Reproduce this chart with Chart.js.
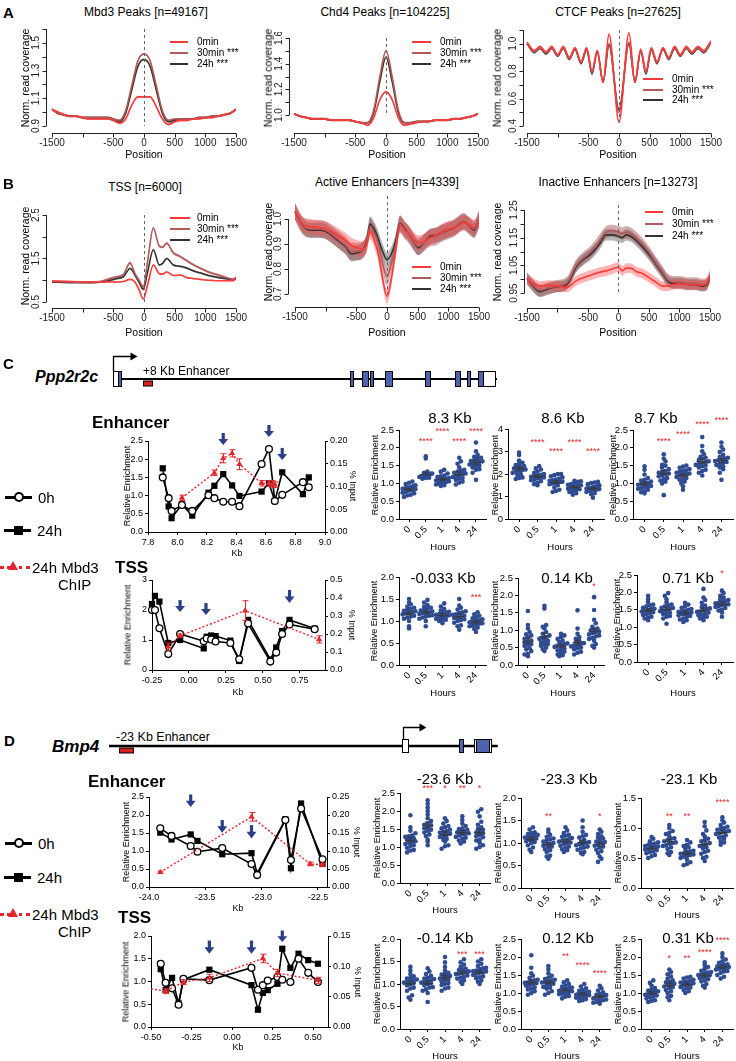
<!DOCTYPE html>
<html>
<head>
<meta charset="utf-8">
<title>Mbd3 profiles and ChIP</title>
<script src="https://cdn.jsdelivr.net/npm/chart.js@4.4.1/dist/chart.umd.min.js"></script>
<style>
  body { margin: 0; background: #fff; }
  #page { position: relative; width: 736px; height: 1061px; overflow: hidden; font-family: "Liberation Sans", Arial, sans-serif; color: #000; }
  .t { position: absolute; white-space: nowrap; line-height: 1; }
  .s { position: absolute; }
</style>
</head>
<body>
<div id="page"></div>
<script>
// ---------- A / B : normalised read coverage around peaks ----------
const profileSeries = ['0min', '30min ***', '24h ***'];
const POS100 = [-1500,-1400,-1300,-1200,-1100,-1000,-900,-800,-700,-600,-500,-400,-300,-200,-100,0,100,200,300,400,500,600,700,800,900,1000,1100,1200,1300,1400,1500];

const mbd3_0min  = [1.02,1.00,0.98,0.97,0.97,0.96,0.95,0.95,0.95,0.95,0.94,0.92,0.95,1.05,1.11,1.11,1.11,1.04,0.95,0.91,0.93,0.94,0.94,0.95,0.95,0.96,0.96,0.97,0.98,0.99,1.02];
const mbd3_30min = [1.02,0.99,0.98,0.97,0.97,0.96,0.96,0.96,0.96,0.96,0.95,0.94,1.01,1.19,1.37,1.42,1.37,1.19,1.01,0.94,0.95,0.95,0.95,0.95,0.96,0.96,0.97,0.97,0.98,0.99,1.02];
const mbd3_24h   = [1.02,0.99,0.98,0.97,0.97,0.96,0.96,0.96,0.96,0.96,0.95,0.93,0.99,1.16,1.33,1.38,1.33,1.16,0.99,0.93,0.94,0.95,0.95,0.95,0.96,0.96,0.97,0.97,0.98,0.99,1.02];

const chd4_0min  = [1.01,0.99,0.98,0.97,0.97,0.97,0.96,0.96,0.96,0.96,0.95,0.94,0.92,0.98,1.12,1.18,1.12,0.98,0.92,0.93,0.94,0.95,0.95,0.96,0.96,0.96,0.97,0.97,0.98,0.99,1.01];
const chd4_30min = [1.01,0.99,0.98,0.97,0.97,0.97,0.96,0.96,0.96,0.96,0.95,0.94,0.94,1.04,1.30,1.50,1.30,1.04,0.94,0.94,0.95,0.95,0.95,0.96,0.96,0.96,0.97,0.97,0.98,0.99,1.01];
const chd4_24h   = [1.01,0.99,0.98,0.97,0.97,0.97,0.96,0.96,0.96,0.96,0.95,0.94,0.94,1.02,1.26,1.45,1.26,1.02,0.94,0.94,0.95,0.95,0.95,0.96,0.96,0.96,0.97,0.97,0.98,0.99,1.01];

const ctcfPos    = [-1500,-1380,-1288,-1190,-1097,-1000,-908,-810,-717,-620,-527,-440,-354,-260,-163,0,163,260,354,440,527,620,717,810,908,1000,1097,1190,1288,1380,1500];
const ctcf_0min  = [1.01,0.95,0.98,0.94,0.98,0.92,0.98,0.90,0.97,0.87,0.97,0.80,0.95,0.72,1.07,0.43,1.08,0.72,0.96,0.80,0.97,0.87,0.97,0.90,0.98,0.92,0.98,0.94,0.98,0.95,1.02];
const ctcf_30min = [1.00,0.94,0.97,0.93,0.97,0.915,0.97,0.89,0.965,0.86,0.96,0.79,0.945,0.72,1.00,0.50,1.01,0.72,0.95,0.79,0.96,0.86,0.965,0.89,0.97,0.915,0.97,0.93,0.97,0.94,1.01];
const ctcf_24h   = [1.00,0.935,0.965,0.925,0.965,0.91,0.965,0.885,0.96,0.855,0.955,0.78,0.94,0.72,0.99,0.52,1.00,0.72,0.945,0.78,0.955,0.855,0.96,0.885,0.965,0.91,0.965,0.925,0.965,0.935,1.01];

const tssPos    = [-1500,-1200,-900,-700,-550,-440,-337,-228,-147,-80,-11,60,152,250,300,370,478,587,696,800,913,1050,1185,1320,1457,1500];
const tss_0min  = [0.98,0.97,0.96,0.96,0.96,0.96,0.97,1.02,0.96,0.78,0.57,0.90,1.35,1.15,1.14,1.19,1.11,1.12,1.06,1.04,1.02,1.00,0.99,0.99,0.99,1.05];
const tss_30min = [0.97,0.96,0.95,0.97,1.04,1.08,1.13,1.40,1.15,1.00,0.85,1.45,2.20,1.78,1.76,1.85,1.63,1.55,1.45,1.36,1.28,1.19,1.13,1.07,1.02,1.06];
const tss_24h   = [0.96,0.95,0.95,0.96,1.00,1.04,1.08,1.27,1.12,0.95,0.79,1.20,1.70,1.35,1.38,1.50,1.35,1.32,1.28,1.22,1.17,1.11,1.07,1.04,1.01,1.05];

const activePos    = [-1500,-1380,-1250,-1100,-1000,-880,-780,-680,-580,-480,-400,-330,-277,-200,-141,-70,0,70,140,212,290,348,430,511,600,700,800,900,1000,1100,1200,1250,1330,1420,1500];
const active_0min  = [1.03,0.98,0.97,0.965,0.96,0.945,0.93,0.915,0.895,0.885,0.88,0.90,0.95,0.91,0.86,0.76,0.69,0.76,0.87,0.975,0.955,0.945,0.92,0.905,0.91,0.925,0.935,0.95,0.96,0.965,0.98,0.985,0.98,0.965,0.99];
const active_30min = [1.03,0.975,0.96,0.96,0.955,0.935,0.915,0.895,0.87,0.87,0.875,0.905,0.97,0.94,0.90,0.82,0.77,0.82,0.89,0.98,0.955,0.94,0.91,0.89,0.905,0.925,0.93,0.945,0.955,0.965,0.985,0.99,0.975,0.96,1.0];
const active_24h   = [1.03,0.975,0.955,0.955,0.95,0.93,0.91,0.89,0.86,0.865,0.875,0.91,0.98,0.955,0.92,0.87,0.836,0.86,0.91,0.983,0.96,0.943,0.91,0.885,0.905,0.93,0.935,0.945,0.955,0.965,0.985,0.99,0.975,0.955,1.0];

const inactivePos    = [-1500,-1400,-1288,-1150,-1016,-853,-690,-580,-473,-390,-310,-201,-100,0,60,125,200,288,400,506,610,723,800,886,1000,1158,1270,1375,1450,1500];
const inactive_0min  = [1.0,0.985,0.975,0.978,0.975,0.97,0.995,1.005,1.013,1.02,1.025,1.03,1.037,1.043,1.03,1.04,1.04,1.028,1.02,1.005,0.99,0.975,0.975,0.98,0.983,0.98,0.98,0.978,0.985,1.01];
const inactive_30min = [1.003,0.978,0.96,0.968,0.975,0.985,1.05,1.075,1.095,1.115,1.14,1.17,1.175,1.17,1.165,1.17,1.165,1.15,1.125,1.095,1.06,1.025,1.0,0.99,0.99,0.985,0.985,0.98,0.985,1.01];
const inactive_24h   = [1.003,0.975,0.955,0.965,0.973,0.98,1.045,1.07,1.087,1.105,1.127,1.16,1.16,1.155,1.15,1.16,1.155,1.14,1.115,1.087,1.055,1.02,0.995,0.985,0.985,0.98,0.98,0.975,0.98,1.01];

// standard error half-widths of the shaded bands, per series
const seA = [0.008, 0.008, 0.008];
const seTss = [0.015, 0.03, 0.025];
const seActive = [0.03, 0.035, 0.03];
const seInactive = [0.018, 0.022, 0.02];

const profXTicks = [-1500,-1000,-500,0,500,1000,1500];
const profXLabels = ['-1500','','-500','0','500','1000','1500'];

// ---------- C / D : qPCR tiling (Kb) ----------
const pppEnhKb   = [7.90,7.94,7.96,8.03,8.10,8.21,8.25,8.31,8.37,8.42,8.57,8.62,8.66,8.71,8.85,8.89];
const pppEnh0h   = [1.50,0.93,0.58,0.74,0.58,1.01,0.93,0.83,0.83,0.71,1.87,2.28,0.85,1.02,1.37,1.23];
const pppEnh24h  = [1.75,0.70,0.38,0.76,0.45,1.08,1.27,1.59,1.28,0.99,1.11,1.34,0.85,1.64,1.04,1.50];
const pppEnhMbdKb  = [8.03,8.25,8.31,8.37,8.42,8.57,8.62,8.64,8.66];
const pppEnhMbd    = [0.075,0.130,0.162,0.173,0.149,0.107,0.107,0.105,0.104];
const pppEnhMbdErr = [0.006,0.006,0.010,0.008,0.012,0.006,0.006,0.008,0.006];
const pppEnhArrowKb = [8.31,8.62,8.71];

const pppTssKb  = [-0.25,-0.23,-0.20,-0.14,-0.06,0.10,0.12,0.15,0.18,0.28,0.34,0.40,0.55,0.59,0.63,0.68,0.85];
const pppTss0h  = [2.00,2.00,1.39,0.53,1.20,0.96,1.05,1.02,0.95,0.90,0.36,1.55,0.28,0.58,1.20,1.52,1.36];
const pppTss24h = [2.20,2.47,2.28,0.90,1.00,0.72,1.11,1.15,1.13,0.98,0.30,1.67,0.35,0.75,1.30,1.67,1.38];
const pppTssMbdKb  = [-0.14,-0.06,0.38,0.88];
const pppTssMbd    = [0.13,0.19,0.33,0.17];
const pppTssMbdErr = [0.02,0.01,0.055,0.02];
const pppTssArrowKb = [-0.06,0.115,0.68];

const bmpEnhKb  = [-23.90,-23.80,-23.63,-23.57,-23.35,-23.09,-23.04,-22.79,-22.74,-22.65,-22.46];
const bmpEnh0h  = [1.63,1.42,1.14,0.98,1.08,0.64,0.33,1.86,0.75,2.18,0.77];
const bmpEnh24h = [1.51,1.32,1.46,1.28,0.91,0.94,0.38,1.88,0.52,2.32,0.64];
const bmpEnhMbdKb  = [-23.90,-23.09,-22.57,-22.46];
const bmpEnhMbd    = [0.041,0.195,0.064,0.062];
const bmpEnhMbdErr = [0.003,0.012,0.005,0.004];
const bmpEnhArrowKb = [-23.63,-23.35,-23.09];

const bmpTssKb  = [-0.44,-0.41,-0.37,-0.33,-0.30,-0.14,0.12,0.16,0.19,0.22,0.28,0.31,0.36,0.41,0.47,0.53];
const bmpTss0h  = [1.39,0.97,0.85,0.49,1.06,1.03,1.30,0.82,0.92,1.02,1.10,1.04,0.99,1.50,1.19,0.99];
const bmpTss24h = [1.27,0.81,1.08,0.52,1.04,1.26,0.92,0.38,0.75,0.81,0.95,1.72,1.30,1.61,1.47,1.39];
const bmpTssMbdKb  = [-0.50,-0.41,-0.30,-0.14,0.19,0.28,0.53];
const bmpTssMbd    = [0.063,0.059,0.074,0.081,0.113,0.089,0.077];
const bmpTssMbdErr = [0,0.004,0.004,0.006,0.007,0.006,0.005];
const bmpTssArrowKb = [-0.14,0.12,0.31];

// ---------- per-primer time course (relative enrichment) ----------
const HOURS = ['0','0.5','1','4','24'];
const ppp83 = [
  [0.62,0.66,0.68,0.72,0.74,0.75,0.78,0.8,0.81,0.82,0.84,0.85,0.86,0.88,0.9,0.92,0.95,0.98,1.02,1.05],
  [1.13,1.15,1.16,1.18,1.19,1.2,1.21,1.22,1.22,1.23,1.24,1.25,1.25,1.26,1.27,1.28,1.3,1.33,1.7,1.76],
  [0.93,0.95,0.97,1.0,1.02,1.03,1.04,1.06,1.08,1.09,1.1,1.12,1.13,1.15,1.18,1.2,1.22,1.28,1.33,1.38],
  [0.97,1.02,1.05,1.1,1.13,1.15,1.18,1.2,1.22,1.25,1.27,1.28,1.3,1.33,1.36,1.38,1.45,1.55,1.62,1.72],
  [1.1,1.3,1.38,1.4,1.45,1.48,1.5,1.53,1.55,1.56,1.6,1.62,1.63,1.66,1.7,1.72,1.75,1.8,1.9,2.15]];
const ppp86 = [
  [1.78,1.82,1.85,1.95,2.0,2.05,2.1,2.15,2.18,2.2,2.25,2.28,2.3,2.35,2.4,2.45,2.5,2.6,2.85,2.95],
  [1.5,1.55,1.6,1.68,1.72,1.75,1.8,1.83,1.85,1.88,1.9,1.92,1.93,1.97,2.0,2.05,2.1,2.2,2.25,2.35],
  [1.2,1.25,1.3,1.4,1.5,1.55,1.58,1.6,1.63,1.65,1.66,1.7,1.72,1.75,1.8,1.85,1.9,1.95,2.0,2.0],
  [1.08,1.15,1.2,1.25,1.3,1.32,1.35,1.38,1.4,1.41,1.42,1.45,1.48,1.5,1.52,1.55,1.6,1.65,1.68,1.7],
  [0.95,1.1,1.15,1.2,1.25,1.28,1.3,1.33,1.35,1.36,1.38,1.4,1.42,1.43,1.47,1.5,1.55,1.6,1.62,1.65]];
const ppp87 = [
  [0.72,0.75,0.78,0.82,0.85,0.86,0.9,0.92,0.93,0.96,0.98,0.99,1.02,1.05,1.08,1.1,1.15,1.25,1.38,1.48],
  [0.67,1.0,1.05,1.08,1.12,1.15,1.2,1.22,1.25,1.28,1.3,1.33,1.35,1.4,1.45,1.5,1.52,1.62,1.7,1.82],
  [0.82,0.92,1.0,1.05,1.1,1.12,1.15,1.18,1.22,1.25,1.27,1.28,1.3,1.33,1.35,1.37,1.4,1.44,1.47,1.5],
  [1.22,1.3,1.35,1.38,1.45,1.48,1.5,1.52,1.55,1.58,1.6,1.62,1.66,1.7,1.72,1.75,1.82,1.9,2.05,2.3],
  [1.1,1.3,1.4,1.45,1.48,1.52,1.55,1.58,1.6,1.63,1.65,1.67,1.7,1.72,1.75,1.8,1.88,1.95,2.03,2.15]];
const pppM033 = [
  [0.83,0.88,1.0,1.05,1.08,1.1,1.12,1.15,1.17,1.18,1.2,1.22,1.23,1.26,1.28,1.3,1.33,1.38,1.42,1.5],
  [0.88,1.0,1.05,1.08,1.1,1.12,1.13,1.16,1.18,1.19,1.2,1.22,1.24,1.25,1.28,1.3,1.32,1.36,1.42,1.48],
  [0.95,1.0,1.02,1.03,1.05,1.06,1.08,1.09,1.1,1.12,1.13,1.14,1.16,1.18,1.2,1.21,1.24,1.28,1.33,1.4],
  [0.8,0.88,0.9,0.96,1.0,1.02,1.04,1.07,1.08,1.1,1.12,1.14,1.15,1.18,1.2,1.22,1.26,1.3,1.35,1.5],
  [0.75,0.82,0.85,0.88,0.9,0.92,0.94,0.95,0.97,0.98,0.99,1.0,1.01,1.02,1.04,1.06,1.09,1.12,1.15,1.2]];
const ppp014 = [
  [0.25,0.3,0.32,0.4,0.45,0.48,0.55,0.58,0.6,0.65,0.68,0.7,0.75,0.8,0.85,0.88,0.95,1.05,1.15,1.55],
  [0.4,0.45,0.5,0.55,0.58,0.6,0.65,0.68,0.7,0.75,0.78,0.8,0.85,0.9,0.95,1.05,1.1,1.15,1.62,1.7],
  [0.25,0.28,0.3,0.35,0.38,0.42,0.45,0.48,0.52,0.55,0.57,0.58,0.6,0.62,0.66,0.7,0.75,0.8,0.85,0.9],
  [0.3,0.35,0.38,0.45,0.48,0.5,0.53,0.55,0.56,0.58,0.6,0.62,0.63,0.66,0.7,0.75,0.8,0.9,1.05,1.57],
  [0.5,0.55,0.6,0.7,0.75,0.78,0.82,0.85,0.88,0.92,0.95,0.96,1.0,1.02,1.05,1.1,1.2,1.3,1.58,1.95]];
const ppp071 = [
  [1.2,1.25,1.28,1.3,1.35,1.38,1.4,1.43,1.45,1.46,1.5,1.52,1.53,1.56,1.6,1.63,1.65,1.72,1.8,1.9],
  [1.1,1.25,1.3,1.32,1.38,1.4,1.42,1.46,1.48,1.5,1.53,1.55,1.56,1.6,1.63,1.65,1.72,1.8,1.9,1.98],
  [1.15,1.2,1.22,1.25,1.3,1.32,1.34,1.37,1.38,1.4,1.42,1.44,1.45,1.48,1.5,1.52,1.56,1.6,1.65,1.7],
  [1.2,1.25,1.28,1.3,1.34,1.36,1.38,1.42,1.44,1.45,1.48,1.5,1.52,1.54,1.58,1.62,1.7,1.78,1.85,2.1],
  [1.3,1.42,1.48,1.5,1.55,1.58,1.6,1.63,1.65,1.66,1.69,1.7,1.72,1.75,1.78,1.8,1.85,1.9,1.98,2.05]];
const bmpM236 = [
  [0.85,0.9,0.92,0.98,1.03,1.05,1.08,1.12,1.14,1.16,1.2,1.22,1.24,1.28,1.3,1.32,1.38,1.45,1.55,1.88],
  [1.05,1.15,1.2,1.3,1.35,1.4,1.45,1.48,1.52,1.55,1.6,1.62,1.65,1.72,1.8,1.9,2.0,2.1,2.2,2.3],
  [0.95,1.02,1.05,1.15,1.2,1.22,1.28,1.3,1.33,1.37,1.4,1.42,1.44,1.48,1.52,1.55,1.58,1.65,1.72,1.8],
  [1.1,1.15,1.18,1.23,1.26,1.28,1.32,1.35,1.37,1.38,1.41,1.42,1.44,1.48,1.5,1.52,1.58,1.65,1.75,1.85],
  [0.95,1.0,1.05,1.12,1.18,1.2,1.27,1.3,1.33,1.38,1.4,1.43,1.48,1.5,1.55,1.62,1.7,1.85,1.98,2.05]];
const bmpM233 = [
  [0.8,0.85,0.9,0.95,1.0,1.02,1.04,1.07,1.08,1.1,1.12,1.13,1.14,1.16,1.18,1.2,1.22,1.24,1.3,1.35],
  [0.65,0.7,0.72,0.8,0.84,0.86,0.9,0.92,0.94,0.97,0.98,1.0,1.03,1.06,1.08,1.1,1.14,1.18,1.24,1.3],
  [0.8,0.84,0.86,0.9,0.92,0.94,0.98,1.0,1.01,1.03,1.05,1.06,1.08,1.11,1.14,1.16,1.18,1.22,1.28,1.35],
  [0.75,0.78,0.8,0.85,0.88,0.9,0.92,0.95,0.97,0.98,1.0,1.02,1.03,1.07,1.12,1.15,1.18,1.25,1.35,1.5],
  [0.58,0.65,0.7,0.78,0.82,0.85,0.9,0.92,0.94,0.97,1.0,1.02,1.03,1.06,1.1,1.12,1.15,1.2,1.25,1.3]];
const bmpM231 = [
  [0.5,0.53,0.55,0.58,0.6,0.61,0.63,0.64,0.65,0.67,0.68,0.69,0.7,0.72,0.73,0.74,0.76,0.78,0.82,0.85],
  [0.55,0.58,0.6,0.65,0.68,0.7,0.71,0.74,0.75,0.76,0.78,0.8,0.82,0.83,0.86,0.9,0.92,0.95,1.0,1.05],
  [0.38,0.4,0.43,0.47,0.5,0.52,0.53,0.55,0.56,0.57,0.58,0.6,0.61,0.62,0.65,0.68,0.7,0.72,0.76,0.8],
  [0.45,0.5,0.52,0.57,0.6,0.62,0.66,0.68,0.7,0.72,0.73,0.75,0.78,0.8,0.82,0.86,0.9,0.96,1.03,1.1],
  [0.72,0.76,0.78,0.82,0.84,0.85,0.88,0.9,0.91,0.93,0.94,0.95,0.97,0.99,1.0,1.02,1.05,1.09,1.13,1.18]];
const bmpM014 = [
  [0.65,0.7,0.75,0.85,0.9,0.92,0.97,1.0,1.02,1.03,1.05,1.07,1.08,1.1,1.12,1.13,1.17,1.22,1.3,1.38],
  [0.6,0.8,0.85,0.88,0.92,0.93,0.97,1.0,1.02,1.03,1.05,1.07,1.08,1.11,1.12,1.14,1.18,1.22,1.28,1.35],
  [0.85,0.9,0.92,0.98,1.0,1.02,1.06,1.09,1.1,1.12,1.15,1.17,1.18,1.21,1.23,1.25,1.3,1.38,1.48,1.6],
  [1.0,1.05,1.08,1.12,1.14,1.16,1.19,1.22,1.23,1.24,1.26,1.27,1.28,1.31,1.33,1.34,1.38,1.43,1.48,1.55],
  [1.0,1.05,1.08,1.13,1.15,1.17,1.2,1.23,1.25,1.26,1.28,1.29,1.3,1.33,1.35,1.36,1.4,1.45,1.5,1.55]];
const bmp012 = [
  [0.95,1.0,1.05,1.1,1.12,1.15,1.2,1.22,1.24,1.27,1.28,1.3,1.33,1.35,1.37,1.42,1.48,1.55,1.7,2.05],
  [0.95,1.0,1.05,1.12,1.15,1.17,1.22,1.24,1.26,1.29,1.3,1.32,1.35,1.37,1.39,1.43,1.48,1.55,1.65,1.75],
  [0.85,0.9,0.92,0.97,0.98,1.0,1.03,1.05,1.06,1.08,1.09,1.1,1.12,1.14,1.15,1.18,1.21,1.25,1.3,1.35],
  [0.78,0.8,0.83,0.87,0.88,0.9,0.93,0.94,0.95,0.97,0.98,0.99,1.01,1.02,1.03,1.06,1.09,1.13,1.18,1.25],
  [0.7,0.73,0.75,0.79,0.8,0.82,0.85,0.86,0.87,0.89,0.9,0.91,0.93,0.94,0.95,0.98,1.02,1.07,1.13,1.2]];
const bmp031 = [
  [0.75,0.78,0.8,0.85,0.88,0.9,0.93,0.95,0.96,0.99,1.0,1.01,1.04,1.05,1.07,1.1,1.14,1.2,1.28,1.35],
  [0.8,0.88,0.92,1.0,1.05,1.08,1.14,1.16,1.18,1.22,1.24,1.26,1.3,1.32,1.35,1.4,1.46,1.52,1.58,1.65],
  [1.0,1.05,1.08,1.13,1.15,1.17,1.2,1.22,1.23,1.25,1.26,1.27,1.29,1.3,1.31,1.34,1.37,1.4,1.43,1.45],
  [1.15,1.2,1.25,1.32,1.35,1.38,1.42,1.44,1.46,1.49,1.5,1.52,1.55,1.57,1.58,1.62,1.67,1.72,1.78,1.85],
  [1.4,1.45,1.5,1.56,1.6,1.61,1.65,1.67,1.68,1.71,1.72,1.74,1.77,1.78,1.8,1.84,1.88,1.93,2.0,2.1]];

const ppp83Stars   = ['','****','****','****','****'];
const ppp86Stars   = ['','****','****','****','****'];
const ppp87Stars   = ['','****','****','****','****'];
const pppM033Stars = ['','','','','***'];
const ppp014Stars  = ['','','','','*'];
const ppp071Stars  = ['','','','','*'];
const bmpM236Stars = ['','***','*','**','*'];
const bmpM233Stars = ['','**','','','*'];
const bmpM231Stars = ['','**','**','','****'];
const bmpM014Stars = ['','','','***','***'];
const bmp012Stars  = ['','','**','****','****'];
const bmp031Stars  = ['','*','**','****','****'];

const T25 = [0,0.5,1,1.5,2,2.5], T20 = [0,0.5,1,1.5,2], T15 = [0,0.5,1,1.5], T4 = [0,1,2,3,4];

// ---------- gene models (Kb from TSS) ----------
const pppLine = [0, 89.1];
const pppExons = [[1.16,1.86],[55.0,55.7],[57.8,59.2],[59.6,60.3],[63.1,64.7],[72.4,73.5],[79.4,80.5],[82.2,82.9],[84.7,85.8]];
const pppUtr = [[0,1.16],[85.8,88.6]];
const pppEnhancer = [7.0,9.05];
const bmpLine = [-24.5, 7.9];
const bmpExons = [[4.67,5.0],[6.08,7.17]];
const bmpUtr = [[-0.05,0.4],[5.92,6.08],[7.17,7.33]];
const bmpEnhancer = [-23.67,-22.5];

// ---------- drawing ----------
const FONT = '"Liberation Sans", Arial, sans-serif';
const LINE_COL = ['#ff3838', '#b45858', '#333333'];
const BAND_COL = ['rgba(255,70,70,0.40)', 'rgba(150,60,60,0.42)', 'rgba(80,80,80,0.42)'];
const RED = '#e3262b', NAVY = '#2b3f86', DOT = '#2f4c92', EXON = '#4e62ad';
const page = document.getElementById('page');

function T(s, x, y, size, o) {
  o = o || {};
  const d = document.createElement('div');
  d.className = 't';
  d.textContent = s;
  d.style.left = x + 'px'; d.style.top = y + 'px';
  d.style.fontSize = size + 'px';
  if (o.bold) d.style.fontWeight = 'bold';
  if (o.italic) d.style.fontStyle = 'italic';
  if (o.color) d.style.color = o.color;
  let tr = o.align === 'left' ? 'translate(0,-50%)' : 'translate(-50%,-50%)';
  if (o.rot) tr += ' rotate(' + o.rot + 'deg)';
  d.style.transform = tr;
  page.appendChild(d);
  return d;
}
function box(x, y, w, h, css) {
  const d = document.createElement('div');
  d.className = 's';
  d.style.cssText += `left:${x}px;top:${y}px;width:${w}px;height:${h}px;` + (css || '');
  page.appendChild(d);
}

const setTicks = vals => s => { s.ticks = vals.map(v => ({value: v})); };

function build(area, m, cfg) {
  const [l, t, r, b] = area, [ml, mt, mr, mb] = m;
  const w = r - l + ml + mr, h = b - t + mt + mb;
  const cv = document.createElement('canvas');
  cv.width = w; cv.height = h;
  cv.style.cssText = `position:absolute;left:${l - ml}px;top:${t - mt}px;width:${w}px;height:${h}px;`;
  page.appendChild(cv);
  const sc = cfg.options.scales;
  const pad = {left: ml, top: mt, right: mr, bottom: mb};
  for (const id in sc) {
    const s = sc[id];
    if (s.display === false) continue;
    if (id === 'x') { pad.bottom = 0; s.afterFit = k => { k.height = mb; k.paddingLeft = 0; k.paddingRight = 0; }; }
    else if (s.position === 'right') { pad.right = 0; s.afterFit = k => { k.width = mr; k.paddingTop = 0; k.paddingBottom = 0; }; }
    else { pad.left = 0; s.afterFit = k => { k.width = ml; k.paddingTop = 0; k.paddingBottom = 0; }; }
  }
  cfg.options.layout = {padding: pad};
  cfg.options.responsive = false;
  cfg.options.animation = false;
  cfg.options.devicePixelRatio = 1;
  cfg.options.events = [];
  cfg.options.plugins = Object.assign({legend: {display: false}, tooltip: {enabled: false}}, cfg.options.plugins || {});
  return new Chart(cv, cfg);
}

// R-style axes: offset lines spanning first to last tick, rotated y labels
const rAxes = {
  id: 'rAxes',
  afterDraw(chart, args, o) {
    const {ctx, chartArea: a, scales: {x, y}} = chart;
    ctx.save();
    ctx.lineWidth = 1;
    ctx.setLineDash([3, 3]); ctx.strokeStyle = '#666';
    const zx = Math.round(x.getPixelForValue(0)) + 0.5;
    ctx.beginPath(); ctx.moveTo(zx, a.top); ctx.lineTo(zx, y.getPixelForValue(o.yTicks[0])); ctx.stroke();
    ctx.setLineDash([]);
    ctx.strokeStyle = '#222'; ctx.fillStyle = '#222';
    ctx.font = '10px ' + FONT;
    const by = Math.round(a.bottom) + 0.5;
    ctx.beginPath();
    ctx.moveTo(x.getPixelForValue(o.xTicks[0]), by);
    ctx.lineTo(x.getPixelForValue(o.xTicks[o.xTicks.length - 1]), by);
    o.xTicks.forEach(v => { const px = Math.round(x.getPixelForValue(v)) + 0.5; ctx.moveTo(px, by); ctx.lineTo(px, by + 4); });
    ctx.stroke();
    ctx.textAlign = 'center'; ctx.textBaseline = 'top';
    o.xTicks.forEach((v, i) => { if (o.xLabels[i]) ctx.fillText(o.xLabels[i], x.getPixelForValue(v), by + 5); });
    const lx = Math.round(a.left) + 0.5;
    ctx.beginPath();
    ctx.moveTo(lx, y.getPixelForValue(o.yTicks[0]));
    ctx.lineTo(lx, y.getPixelForValue(o.yTicks[o.yTicks.length - 1]));
    o.yTicks.forEach(v => { const py = Math.round(y.getPixelForValue(v)) + 0.5; ctx.moveTo(lx, py); ctx.lineTo(lx - 4, py); });
    ctx.stroke();
    ctx.textAlign = 'center'; ctx.textBaseline = 'bottom';
    o.yTicks.forEach((v, i) => {
      if (!o.yLabels[i]) return;
      ctx.save(); ctx.translate(lx - 5, y.getPixelForValue(v)); ctx.rotate(-Math.PI / 2);
      ctx.fillText(o.yLabels[i], 0, 0); ctx.restore();
    });
    ctx.restore();
  }
};

function profile(area, xr, yr, yTicks, yLabels, pos, series, se) {
  const ds = [];
  series.forEach((s, i) => {
    ds.push({data: pos.map((p, j) => ({x: p, y: s[j]})), borderColor: LINE_COL[i], borderWidth: 1.6,
      pointRadius: 0, cubicInterpolationMode: 'monotone', fill: false, order: i});
  });
  series.forEach((s, i) => {
    ds.push({data: pos.map((p, j) => ({x: p, y: s[j] - se[i]})), borderColor: 'rgba(0,0,0,0)', borderWidth: 1,
      pointRadius: 0, cubicInterpolationMode: 'monotone', fill: false, order: 10 + i});
    ds.push({data: pos.map((p, j) => ({x: p, y: s[j] + se[i]})), borderColor: 'rgba(0,0,0,0)', borderWidth: 1,
      pointRadius: 0, cubicInterpolationMode: 'monotone', fill: '-1', backgroundColor: BAND_COL[i], order: 10 + i});
  });
  return build(area, [30, 6, 16, 22], {
    type: 'line',
    data: {datasets: ds},
    options: {
      scales: {
        x: {type: 'linear', display: false, min: xr[0], max: xr[1]},
        y: {type: 'linear', display: false, min: yr[0], max: yr[1]}
      },
      plugins: {rAxes: {xTicks: profXTicks, xLabels: profXLabels, yTicks, yLabels}}
    },
    plugins: [rAxes]
  });
}

function profLegend(x1, x2, tx, ys) {
  ys.forEach((y, i) => {
    box(x1, y - 1, x2 - x1, 2, 'background:' + LINE_COL[i] + ';');
    T(profileSeries[i], tx, y, 10, {align: 'left'});
  });
}

// GraphPad-style axes
const GRID = {display: true, drawOnChartArea: false, drawTicks: true, tickLength: 3, color: '#000', lineWidth: 1};
const BORDER = {display: true, color: '#000', width: 1};
const tickOpt = extra => Object.assign({color: '#000', font: {family: FONT, size: 9}, padding: 2, autoSkip: false, maxRotation: 0}, extra);

const kbExtras = {
  id: 'kbExtras',
  afterDatasetsDraw(chart, args, o) {
    const {ctx, scales: {x, y, y2}} = chart;
    ctx.save();
    ctx.strokeStyle = RED; ctx.lineWidth = 1;
    o.mKb.forEach((k, i) => {
      const e = o.mErr[i]; if (!e) return;
      const px = Math.round(x.getPixelForValue(k)) + 0.5;
      const p1 = y2.getPixelForValue(o.mVal[i] + e), p2 = y2.getPixelForValue(o.mVal[i] - e);
      ctx.beginPath();
      ctx.moveTo(px, p1); ctx.lineTo(px, p2);
      ctx.moveTo(px - 3, p1); ctx.lineTo(px + 3, p1);
      ctx.moveTo(px - 3, p2); ctx.lineTo(px + 3, p2);
      ctx.stroke();
    });
    ctx.fillStyle = NAVY;
    o.arrKb.forEach((k, i) => {
      const px = x.getPixelForValue(k), top = y.getPixelForValue(o.arrY[i][0]), tip = y.getPixelForValue(o.arrY[i][1]);
      const hh = (tip - top) * 0.5;
      ctx.fillRect(px - 1.6, top, 3.2, tip - top - hh + 1);
      ctx.beginPath(); ctx.moveTo(px - 5, tip - hh); ctx.lineTo(px + 5, tip - hh); ctx.lineTo(px, tip); ctx.closePath(); ctx.fill();
    });
    ctx.restore();
  }
};

function kbChart(area, xr, xTicks, xDec, yMax, yTicks, yDec, y2Max, y2Ticks, y2Dec, kb, h0, h24, mKb, mVal, mErr, arrKb, arrY) {
  const pt = (xs, ys) => xs.map((k, i) => ({x: k, y: ys[i]}));
  return build(area, [26, 20, 26, 14], {
    type: 'line',
    data: {datasets: [
      {data: pt(kb, h0), yAxisID: 'y', borderColor: '#000', borderWidth: 1.6, pointStyle: 'circle', pointRadius: 3.4,
        pointBackgroundColor: '#fff', pointBorderColor: '#000', pointBorderWidth: 1.3, clip: false, order: 1},
      {data: pt(kb, h24), yAxisID: 'y', borderColor: '#000', borderWidth: 1.6, pointStyle: 'rect', pointRadius: 4.4,
        pointBackgroundColor: '#000', pointBorderColor: '#000', pointBorderWidth: 0, clip: false, order: 2},
      {data: pt(mKb, mVal), yAxisID: 'y2', borderColor: RED, borderDash: [2, 2], borderWidth: 1.4, pointStyle: 'triangle',
        pointRadius: c => (c.raw && c.raw.x <= xr[0]) ? 0 : 3.6,
        pointBackgroundColor: RED, pointBorderColor: RED, pointBorderWidth: 0, clip: false, order: 0}
    ]},
    options: {
      scales: {
        x: {type: 'linear', min: xr[0], max: xr[1], afterBuildTicks: setTicks(xTicks), grid: GRID, border: BORDER,
          ticks: tickOpt({callback: v => v.toFixed(xDec)})},
        y: {type: 'linear', position: 'left', min: 0, max: yMax, afterBuildTicks: setTicks(yTicks), grid: GRID, border: BORDER,
          ticks: tickOpt({callback: v => v.toFixed(yDec)})},
        y2: {type: 'linear', position: 'right', min: 0, max: y2Max, afterBuildTicks: setTicks(y2Ticks), grid: GRID, border: BORDER,
          ticks: tickOpt({callback: v => v.toFixed(y2Dec)})}
      },
      plugins: {kbExtras: {mKb, mVal, mErr, arrKb, arrY}}
    },
    plugins: [kbExtras]
  });
}

const dotExtras = {
  id: 'dotExtras',
  afterDatasetsDraw(chart, args, o) {
    const {ctx, scales: {x, y}} = chart;
    ctx.save();
    const hw = (x.getPixelForValue(1) - x.getPixelForValue(0)) * 0.3;
    o.groups.forEach((g, gi) => {
      const n = g.length, mean = g.reduce((a, b) => a + b, 0) / n;
      const sd = Math.sqrt(g.reduce((a, b) => a + (b - mean) * (b - mean), 0) / (n - 1)), sem = sd / Math.sqrt(n);
      const cx = x.getPixelForValue(gi), my = Math.round(y.getPixelForValue(mean)) + 0.5;
      const p1 = y.getPixelForValue(mean + sem), p2 = y.getPixelForValue(mean - sem);
      ctx.strokeStyle = '#3a3a3a'; ctx.lineWidth = 1;
      ctx.beginPath();
      ctx.moveTo(cx - hw, my); ctx.lineTo(cx + hw, my);
      ctx.moveTo(cx, p1); ctx.lineTo(cx, p2);
      ctx.moveTo(cx - hw / 2, p1); ctx.lineTo(cx + hw / 2, p1);
      ctx.moveTo(cx - hw / 2, p2); ctx.lineTo(cx + hw / 2, p2);
      ctx.stroke();
      if (o.stars[gi]) {
        ctx.fillStyle = RED; ctx.font = '9px ' + FONT; ctx.textAlign = 'center'; ctx.textBaseline = 'middle';
        ctx.fillText(o.stars[gi], cx, y.getPixelForValue(o.starY[gi]) + 2);
      }
    });
    ctx.restore();
  }
};

function dotPlot(area, yMax, yTicks, yDec, groups, stars, starY) {
  const [l, t, r, b] = area;
  const pxY = (b - t) / yMax, pxX = (r - l) / 5.2;
  const pts = [];
  // beeswarm layout: points sharing a 4px value band are spread sideways, centred on the group
  groups.forEach((g, gi) => {
    const keys = g.map(v => Math.round(v * pxY / 4));
    const cnt = {};
    keys.forEach(k => { cnt[k] = (cnt[k] || 0) + 1; });
    const seen = {};
    g.forEach((v, i) => {
      const k = keys[i];
      const j = seen[k] = seen[k] === undefined ? 0 : seen[k] + 1;
      const half = (cnt[k] - 1) / 2;
      const sp = half > 0 ? Math.min(3.4, 6.5 / half) : 0;
      pts.push({x: gi + (j - half) * sp / pxX, y: v});
    });
  });
  return build(area, [24, 16, 3, 26], {
    type: 'scatter',
    data: {datasets: [{data: pts, pointRadius: 2.3, pointBackgroundColor: DOT, pointBorderColor: DOT, pointBorderWidth: 0, clip: false}]},
    options: {
      scales: {
        x: {type: 'linear', min: -0.6, max: 4.6, afterBuildTicks: setTicks([0, 1, 2, 3, 4]), grid: GRID, border: BORDER,
          ticks: tickOpt({font: {family: FONT, size: 9.5}, maxRotation: 45, minRotation: 45, callback: (v, i) => HOURS[i]})},
        y: {type: 'linear', min: 0, max: yMax, afterBuildTicks: setTicks(yTicks), grid: GRID, border: BORDER,
          ticks: tickOpt({font: {family: FONT, size: 9.5}, callback: v => v.toFixed(yDec)})}
      },
      plugins: {dotExtras: {groups, stars, starY}}
    },
    plugins: [dotExtras]
  });
}

const genePlot = {
  id: 'genePlot',
  afterDraw(chart, args, o) {
    const {ctx, scales: {x, y}} = chart;
    const cy = y.getPixelForValue(0.5), h = o.h;
    const X = v => x.getPixelForValue(v);
    ctx.save();
    ctx.strokeStyle = '#000';
    ctx.lineWidth = o.lw;
    ctx.beginPath(); ctx.moveTo(X(o.line[0]), cy); ctx.lineTo(X(o.line[1]), cy); ctx.stroke();
    ctx.lineWidth = 1;
    const rect = (s, e, fill) => {
      const x1 = Math.round(X(s)) + 0.5, x2 = Math.round(X(e)) + 0.5;
      ctx.fillStyle = fill; ctx.fillRect(x1, cy - h / 2, x2 - x1, h); ctx.strokeRect(x1, cy - h / 2, x2 - x1, h);
    };
    o.utr.forEach(u => rect(u[0], u[1], '#fff'));
    o.exons.forEach(e => rect(e[0], e[1], EXON));
    const ex1 = Math.round(X(o.enh[0])) + 0.5, ex2 = Math.round(X(o.enh[1])) + 0.5;
    ctx.fillStyle = '#d8201f';
    ctx.fillRect(ex1, cy + 2, ex2 - ex1, 5); ctx.strokeRect(ex1, cy + 2, ex2 - ex1, 5);
    const ax = Math.round(X(0)) + 0.5, ay0 = cy - h / 2, ay1 = ay0 - o.arrowUp;
    ctx.lineWidth = 1.3;
    ctx.beginPath(); ctx.moveTo(ax, ay0); ctx.lineTo(ax, ay1); ctx.lineTo(ax + o.arrowLen, ay1); ctx.stroke();
    ctx.fillStyle = '#000';
    ctx.beginPath(); ctx.moveTo(ax + o.arrowLen - 1, ay1 - 4); ctx.lineTo(ax + o.arrowLen + 6, ay1); ctx.lineTo(ax + o.arrowLen - 1, ay1 + 4); ctx.closePath(); ctx.fill();
    ctx.restore();
  }
};

function geneChart(area, xr, g) {
  return build(area, [0, 0, 0, 0], {
    type: 'scatter',
    data: {datasets: []},
    options: {
      scales: {x: {type: 'linear', display: false, min: xr[0], max: xr[1]}, y: {type: 'linear', display: false, min: 0, max: 1}},
      plugins: {genePlot: g}
    },
    plugins: [genePlot]
  });
}

// ================= Panel A =================
T('A', 3, 12, 15, {bold: true, align: 'left'});
T('Mbd3 Peaks [n=49167]', 146, 12, 12);
T('Chd4 Peaks [n=104225]', 385, 12, 12);
T('CTCF Peaks [n=27625]', 618, 12, 12);
profile([46, 29, 236, 133], [-1598, 1500], [0.849, 1.6],
  [0.9,1.0,1.1,1.2,1.3,1.4,1.5,1.6], ['0.9','','1.1','','1.3','','1.5',''],
  POS100, [mbd3_0min, mbd3_30min, mbd3_24h], seA);
profile([289, 38, 478, 133], [-1582, 1500], [0.86, 1.6],
  [1.0,1.1,1.2,1.3,1.4,1.5,1.6], ['1.0','','1.2','','1.4','','1.6'],
  POS100, [chd4_0min, chd4_30min, chd4_24h], seA);
profile([523, 30, 711, 133], [-1565, 1500], [0.349, 1.1],
  [0.4,0.5,0.6,0.7,0.8,0.9,1.0,1.1], ['0.4','','0.6','','0.8','','1.0',''],
  ctcfPos, [ctcf_0min, ctcf_30min, ctcf_24h], seA);
profLegend(170, 188, 197, [42, 53, 64]);
profLegend(412, 431, 440, [42, 53, 64]);
profLegend(643, 663, 672, [79, 90, 100]);
[25, 268, 497].forEach(x => T('Norm. read coverage', x, 78, 10.5, {rot: -90}));
[144, 387, 618].forEach(x => T('Position', x, 154, 10.5));

// ================= Panel B =================
T('B', 3, 183, 15, {bold: true, align: 'left'});
T('TSS [n=6000]', 145, 187, 12);
T('Active Enhancers [n=4339]', 387, 182, 12);
T('Inactive Enhancers [n=13273]', 618, 182, 12);
profile([46, 215, 236, 308], [-1598, 1500], [0.362, 2.5],
  [0.5,1.0,1.5,2.0,2.5], ['0.5','','1.5','','2.5'],
  tssPos, [tss_0min, tss_30min, tss_24h], seTss);
profile([288, 196, 479, 307], [-1614, 1500], [0.648, 1.092],
  [0.7,0.8,0.9,1.0], ['0.7','0.8','0.9','1.0'],
  activePos, [active_0min, active_30min, active_24h], seActive);
profile([524, 205, 710, 308], [-1549, 1500], [0.896, 1.268],
  [0.95,1.0,1.05,1.1,1.15,1.2,1.25], ['0.95','','1.05','','1.15','','1.25'],
  inactivePos, [inactive_0min, inactive_30min, inactive_24h], seInactive);
profLegend(170, 190, 197, [218, 229, 240]);
profLegend(412, 431, 440, [267, 278, 289]);
profLegend(645, 663, 672, [212, 224, 236]);
T('Norm. read coverage', 25, 256, 10.5, {rot: -90});
T('Norm. read coverage', 268, 252, 10.5, {rot: -90});
T('Norm. read coverage', 497, 252, 10.5, {rot: -90});
[144, 387, 618].forEach(x => T('Position', x, 332, 10.5));

// ================= Panel C =================
T('C', 3, 363, 15, {bold: true, align: 'left'});
T('Ppp2r2c', 35, 377, 16, {bold: true, italic: true, align: 'left'});
T('+8 Kb Enhancer', 143, 371, 12, {align: 'left'});
geneChart([100, 349, 505, 409], [(100 - 113) / 4.31, (505 - 113) / 4.31],
  {line: pppLine, exons: pppExons, utr: pppUtr, enh: pppEnhancer, h: 15, lw: 2, arrowUp: 15, arrowLen: 18});

function sideLegend(y0, y1, y2, y3) {
  box(5, y0 - 1.5, 27, 3, 'background:#000;');
  box(14, y0 - 5, 10, 10, 'box-sizing:border-box;border:2px solid #000;border-radius:50%;background:#fff;');
  T('0h', 38, y0, 15, {align: 'left'});
  box(4, y1 - 1.5, 27, 3, 'background:#000;');
  box(14, y1 - 4.5, 9, 9, 'background:#000;');
  T('24h', 37, y1, 15, {align: 'left'});
  box(0, y2 - 1.5, 30, 0, 'border-top:3px dotted ' + RED + ';');
  box(8, y2 - 6, 0, 0, 'border-left:5px solid transparent;border-right:5px solid transparent;border-bottom:9px solid ' + RED + ';');
  T('24h Mbd3', 32, y2, 15, {align: 'left'});
  T('ChIP', 58, y3, 15, {align: 'left'});
}
sideLegend(497, 530, 567, 584);

T('Enhancer', 92, 422, 17, {bold: true, align: 'left'});
kbChart([148, 441, 325, 532], [7.8, 9.0], [7.8,8.0,8.2,8.4,8.6,8.8,9.0], 1,
  2.5, T25, 1, 0.2, [0,0.05,0.1,0.15,0.2], 2,
  pppEnhKb, pppEnh0h, pppEnh24h, pppEnhMbdKb, pppEnhMbd, pppEnhMbdErr,
  pppEnhArrowKb, [[2.72,2.39],[2.94,2.61],[2.31,1.98]]);
T('Relative Enrichment', 127, 486, 9, {rot: -90});
T('% Input', 352, 486, 9, {rot: 90});
T('Kb', 237, 553, 9);

T('TSS', 115, 567, 17, {bold: true, align: 'left'});
kbChart([152, 580, 325, 670], [-0.25, 0.92], [-0.25,0,0.25,0.5,0.75], 2,
  3, [0,1,2,3], 0, 0.5, [0,0.1,0.2,0.3,0.4,0.5], 1,
  pppTssKb, pppTss0h, pppTss24h, pppTssMbdKb, pppTssMbd, pppTssMbdErr,
  pppTssArrowKb, [[2.33,1.93],[2.23,1.83],[2.67,2.23]]);
T('Relative Enrichment', 128, 625, 9, {rot: -90});
T('% Input', 351, 625, 9, {rot: 90});
T('Kb', 238, 692, 9);

dotPlot([399, 430, 487, 519], 2.5, T25, 1, ppp83, ppp83Stars, [0,2.22,2.5,2.22,2.5]);
dotPlot([508, 429, 605, 519], 4, T4, 0, ppp86, ppp86Stars, [0,3.51,3.07,3.51,3.07]);
dotPlot([633, 430, 734, 519], 2.5, T25, 1, ppp87, ppp87Stars, [0,2.22,2.42,2.72,2.81]);
dotPlot([399, 577, 487, 665], 2.0, T20, 1, pppM033, pppM033Stars, [0,0,0,0,1.59]);
dotPlot([518, 578, 605, 665], 2.5, T25, 1, ppp014, ppp014Stars, [0,0,0,0,2.3]);
dotPlot([637, 575, 734, 662], 2.5, T25, 1, ppp071, ppp071Stars, [0,0,0,0,2.59]);
T('8.3 Kb', 450, 417, 15); T('8.6 Kb', 563, 417, 15); T('8.7 Kb', 656, 417, 15);
T('-0.033 Kb', 443, 577, 15); T('0.14 Kb', 567, 577, 15); T('0.71 Kb', 688, 577, 15);
T('Relative Enrichment', 375, 475, 9, {rot: -90});
T('Relative Enrichment', 495, 475, 9, {rot: -90});
T('Relative Enrichment', 613, 475, 9, {rot: -90});
T('Relative Enrichment', 374, 621, 9, {rot: -90});
T('Relative Enrichment', 495, 621, 9, {rot: -90});
T('Relative Enrichment', 617, 619, 9, {rot: -90});
[443, 560, 683].forEach(x => T('Hours', x, 547, 9.5));
[443, 563, 683].forEach(x => T('Hours', x, 693, 9.5));

// ================= Panel D =================
T('D', 4, 740, 15, {bold: true, align: 'left'});
T('Bmp4', 52, 746, 17, {bold: true, italic: true, align: 'left'});
T('-23 Kb Enhancer', 116, 737, 12.5, {align: 'left'});
geneChart([100, 716, 510, 776], [(100 - 403) / 12, (510 - 403) / 12],
  {line: bmpLine, exons: bmpExons, utr: bmpUtr, enh: bmpEnhancer, h: 13, lw: 2.4, arrowUp: 12, arrowLen: 17});
sideLegend(843, 877, 914, 931);

T('Enhancer', 88, 781, 17, {bold: true, align: 'left'});
kbChart([149, 797, 327, 887], [-24, -22.42], [-24,-23.5,-23,-22.5], 1,
  2.5, T25, 1, 0.25, [0,0.05,0.1,0.15,0.2,0.25], 2,
  bmpEnhKb, bmpEnh0h, bmpEnh24h, bmpEnhMbdKb, bmpEnhMbd, bmpEnhMbdErr,
  bmpEnhArrowKb, [[2.57,2.22],[1.86,1.51],[1.72,1.35]]);
T('Relative Enrichment', 126, 842, 9, {rot: -90});
T('% Input', 356, 842, 9, {rot: 90});
T('Kb', 238, 908, 9);

T('TSS', 118, 917, 17, {bold: true, align: 'left'});
kbChart([151, 936, 328, 1027], [-0.5, 0.592], [-0.5,-0.25,0,0.25,0.5], 2,
  2.0, T20, 1, 0.15, [0,0.05,0.1,0.15], 2,
  bmpTssKb, bmpTss0h, bmpTss24h, bmpTssMbdKb, bmpTssMbd, bmpTssMbdErr,
  bmpTssArrowKb, [[1.90,1.61],[1.90,1.61],[2.12,1.87]]);
T('Relative Enrichment', 126, 982, 9, {rot: -90});
T('% Input', 357, 982, 9, {rot: 90});
T('Kb', 238, 1047, 9);

dotPlot([400, 793, 491, 883], 2.5, T25, 1, bmpM236, bmpM236Stars, [0,2.67,2.67,2.67,2.67]);
dotPlot([521, 798, 611, 888], 2.0, T20, 1, bmpM233, bmpM233Stars, [0,1.64,0,0,1.64]);
dotPlot([641, 798, 734, 888], 1.5, T15, 1, bmpM231, bmpM231Stars, [0,1.23,1.23,0,1.45]);
dotPlot([400, 939, 491, 1029], 2.0, T20, 1, bmpM014, bmpM014Stars, [0,0,0,1.69,1.69]);
dotPlot([521, 939, 611, 1029], 2.5, T25, 1, bmp012, bmp012Stars, [0,0,2.06,1.81,1.61]);
dotPlot([641, 939, 734, 1029], 2.5, T25, 1, bmp031, bmp031Stars, [0,2.0,2.0,2.17,2.5]);
T('-23.6 Kb', 445, 778, 15); T('-23.3 Kb', 569, 778, 15); T('-23.1 Kb', 689, 778, 15);
T('-0.14 Kb', 445, 937, 15); T('0.12 Kb', 568, 937, 15); T('0.31 Kb', 688, 937, 15);
T('Relative Enrichment', 377, 838, 9, {rot: -90});
T('Relative Enrichment', 498, 843, 9, {rot: -90});
T('Relative Enrichment', 618, 843, 9, {rot: -90});
T('Relative Enrichment', 377, 984, 9, {rot: -90});
T('Relative Enrichment', 498, 984, 9, {rot: -90});
T('Relative Enrichment', 618, 984, 9, {rot: -90});
T('Hours', 445, 910, 9.5); T('Hours', 567, 915, 9.5); T('Hours', 687, 915, 9.5);
[445, 567, 687].forEach(x => T('Hours', x, 1056, 9.5));
</script>
</body>
</html>
